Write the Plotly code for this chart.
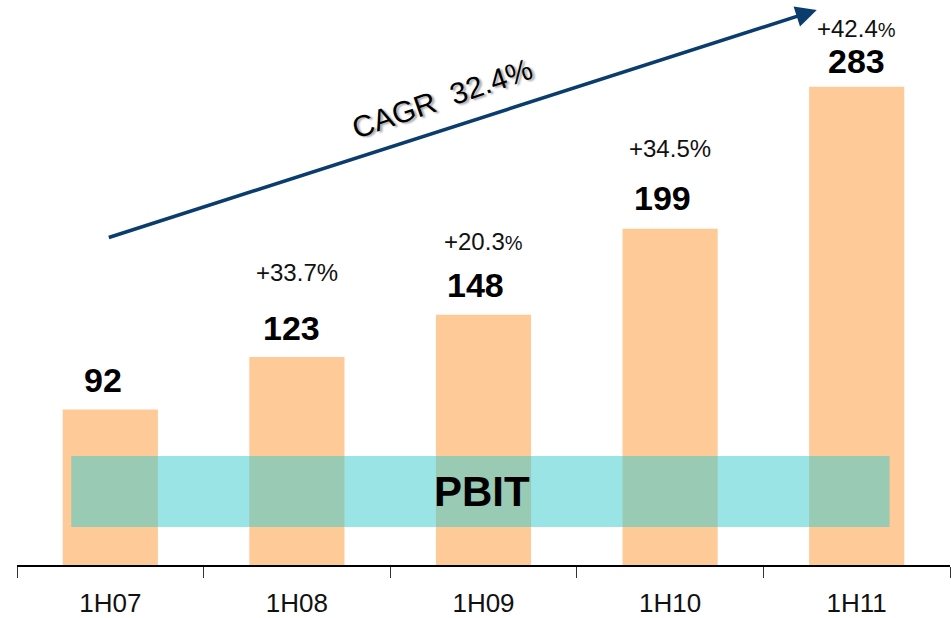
import plotly.graph_objects as go

# ---- data ----
categories = ["1H07", "1H08", "1H09", "1H10", "1H11"]
pbit_values = [92, 123, 148, 199, 283]
growth_labels = [None, "+33.7%", "+20.3<span style='font-size:20px'>%</span>", "+34.5%",
                 "+42.4<span style='font-size:20px'>%</span>"]
cagr_label = "CAGR&nbsp; 32.4%"
band_label = "PBIT"

# ---- layout helpers (positions / styles) ----
value_xshift = [-7, -5, -8, -8, 0]
value_yshift = [30, 29, 30, 31, 26]
growth_yshift = [0, 85, 73, 80, 58]
FONT = "Arial, Liberation Sans, sans-serif"
BAR_COLOR = "#FDCA98"
ARROW_COLOR = "#0B3C6E"

fig = go.Figure()
fig.add_trace(go.Bar(
    x=categories, y=pbit_values, marker=dict(color=BAR_COLOR, line=dict(width=0)),
    width=0.51, hoverinfo="skip", showlegend=False,
))

annotations = []
for i, (c, v) in enumerate(zip(categories, pbit_values)):
    annotations.append(dict(
        x=c, y=v, xref="x", yref="y", text=f"<b>{v}</b>", showarrow=False,
        xshift=value_xshift[i], yshift=value_yshift[i], yanchor="middle",
        font=dict(family=FONT, size=34, color="#000000"),
    ))
    if growth_labels[i]:
        annotations.append(dict(
            x=c, y=v, xref="x", yref="y", text=growth_labels[i], showarrow=False,
            yshift=growth_yshift[i], yanchor="middle",
            font=dict(family=FONT, size=24, color="#111111"),
        ))

# CAGR arrow (from 1H07 region to 1H11 region)
annotations.append(dict(
    x=3.786, y=328.4, ax=-0.016, ay=193.5, xref="x", yref="y", axref="x", ayref="y",
    text="", showarrow=True, arrowhead=2, arrowsize=1.2, arrowwidth=3.5,
    arrowcolor=ARROW_COLOR, standoff=0, startstandoff=0,
))
annotations.append(dict(
    x=1.775, y=276, xref="x", yref="y", text=cagr_label, showarrow=False,
    textangle=-19, font=dict(family=FONT, size=30, color="#000000",
                             shadow="2px 2px 2px rgba(0,0,0,0.35)"),
))
annotations.append(dict(
    x=1.99, y=43.2, xref="x", yref="y", text=f"<b>{band_label}</b>", showarrow=False,
    font=dict(family=FONT, size=42, color="#000000"),
))

fig.add_shape(type="rect", xref="x", yref="y", x0=-0.209, x1=4.176, y0=22.5, y1=64.5,
              fillcolor="rgba(53,201,205,0.5)", line=dict(width=0), layer="above")

fig.update_layout(
    width=951, height=618,
    margin=dict(l=17, r=1, t=0, b=53),
    paper_bgcolor="white", plot_bgcolor="white",
    annotations=annotations,
    bargap=0.49,
    xaxis=dict(
        type="category", range=[-0.5, 4.5], showline=True, linecolor="#000000", linewidth=2,
        ticks="outside", tickson="boundaries", ticklen=11, tickwidth=1.2, tickcolor="#333333",
        tickfont=dict(family=FONT, size=26, color="#111111"), ticklabelstandoff=14,
        showgrid=False, zeroline=False, fixedrange=True,
    ),
    yaxis=dict(visible=False, range=[0, 334.3], fixedrange=True),
)

fig.write_html("out.html")
